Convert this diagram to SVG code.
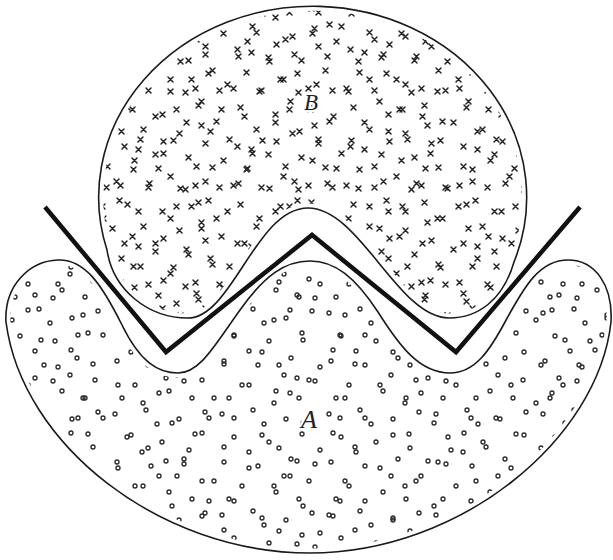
<svg xmlns="http://www.w3.org/2000/svg" width="613" height="560" viewBox="0 0 613 560">
<style>
.xm{fill:none;stroke:#222;stroke-width:1.5;stroke-linecap:round}
.om{fill:none;stroke:#2a2a2a;stroke-width:1.35}
.halo{fill:none;stroke:#fff;stroke-width:9}
.outline{fill:none;stroke:#1a1a1a;stroke-width:1.6}
.thick{fill:none;stroke:#111;stroke-width:4.5;stroke-linejoin:miter;stroke-linecap:butt}
.lbl{font-family:"Liberation Serif","Times New Roman",serif;font-style:italic;fill:#222;stroke:#fff;stroke-width:5;paint-order:stroke}
</style>
<defs>
<path id="shapeB" d="M107,250 A214,191 0 1 1 514,262 C503,300 478,318 449,318 C398,318 360,208 308,208 C256,208 232,318 188,318 C148,318 113,290 107,250 Z"/>
<path id="shapeA" d="M58,260 C85,259 102,285 122,325 C140,362 158,373 178,373 C200,373 215,345 240,310 C265,275 285,261 310,261 C335,261 355,277 378,312 C400,347 420,373 450,373 C475,373 490,350 505,322 C525,285 540,260 568,260 C595,260 613,285 611,322 C598,440 460,553 310,553 C160,553 22,445 6,322 C4,285 30,261 58,260 Z"/>
<pattern id="pb1" patternUnits="userSpaceOnUse" width="113" height="97">
<path class="xm" d="M12 8l5 5m0-5l-5 5M47 15l5 5m0-5l-5 5M83 6l5 5m0-5l-5 5M101 22l5 5m0-5l-5 5M28 30l5 5m0-5l-5 5M64 34l5 5m0-5l-5 5M9 47l5 5m0-5l-5 5M90 44l5 5m0-5l-5 5M40 55l5 5m0-5l-5 5M73 58l5 5m0-5l-5 5M18 70l5 5m0-5l-5 5M55 77l5 5m0-5l-5 5M97 68l5 5m0-5l-5 5M33 88l5 5m0-5l-5 5M80 86l5 5m0-5l-5 5M104 88l5 5m0-5l-5 5M61 10l5 5m0-5l-5 5M23 50l5 5m0-5l-5 5M86 26l5 5m0-5l-5 5M48 42l5 5m0-5l-5 5M5 86l5 5m0-5l-5 5M70 90l5 5m0-5l-5 5"/>
</pattern>
<pattern id="pb2" patternUnits="userSpaceOnUse" width="89" height="127" x="37" y="19">
<path class="xm" d="M6 12l5 5m0-5l-5 5M35 5l5 5m0-5l-5 5M68 18l5 5m0-5l-5 5M21 35l5 5m0-5l-5 5M52 40l5 5m0-5l-5 5M80 52l5 5m0-5l-5 5M10 63l5 5m0-5l-5 5M42 70l5 5m0-5l-5 5M73 80l5 5m0-5l-5 5M27 95l5 5m0-5l-5 5M58 101l5 5m0-5l-5 5M82 110l5 5m0-5l-5 5M12 118l5 5m0-5l-5 5M45 119l5 5m0-5l-5 5M63 58l5 5m0-5l-5 5M30 20l5 5m0-5l-5 5M77 33l5 5m0-5l-5 5M4 88l5 5m0-5l-5 5"/>
</pattern>
<pattern id="pa1" patternUnits="userSpaceOnUse" width="107" height="101">
<path class="om" d="M6 10a2 2 0 1 0 4 0a2 2 0 1 0-4 0M37 6a2 2 0 1 0 4 0a2 2 0 1 0-4 0M70 15a2 2 0 1 0 4 0a2 2 0 1 0-4 0M96 8a2 2 0 1 0 4 0a2 2 0 1 0-4 0M18 33a2 2 0 1 0 4 0a2 2 0 1 0-4 0M53 38a2 2 0 1 0 4 0a2 2 0 1 0-4 0M86 30a2 2 0 1 0 4 0a2 2 0 1 0-4 0M8 58a2 2 0 1 0 4 0a2 2 0 1 0-4 0M42 62a2 2 0 1 0 4 0a2 2 0 1 0-4 0M75 55a2 2 0 1 0 4 0a2 2 0 1 0-4 0M26 82a2 2 0 1 0 4 0a2 2 0 1 0-4 0M60 88a2 2 0 1 0 4 0a2 2 0 1 0-4 0M93 77a2 2 0 1 0 4 0a2 2 0 1 0-4 0M13 95a2 2 0 1 0 4 0a2 2 0 1 0-4 0M48 20a2 2 0 1 0 4 0a2 2 0 1 0-4 0M83 95a2 2 0 1 0 4 0a2 2 0 1 0-4 0M68 72a2 2 0 1 0 4 0a2 2 0 1 0-4 0M33 48a2 2 0 1 0 4 0a2 2 0 1 0-4 0"/>
</pattern>
<pattern id="pa2" patternUnits="userSpaceOnUse" width="131" height="83" x="23" y="41">
<path class="om" d="M3 20a2 2 0 1 0 4 0a2 2 0 1 0-4 0M28 8a2 2 0 1 0 4 0a2 2 0 1 0-4 0M58 25a2 2 0 1 0 4 0a2 2 0 1 0-4 0M93 12a2 2 0 1 0 4 0a2 2 0 1 0-4 0M118 30a2 2 0 1 0 4 0a2 2 0 1 0-4 0M16 50a2 2 0 1 0 4 0a2 2 0 1 0-4 0M46 60a2 2 0 1 0 4 0a2 2 0 1 0-4 0M78 45a2 2 0 1 0 4 0a2 2 0 1 0-4 0M106 62a2 2 0 1 0 4 0a2 2 0 1 0-4 0M33 77a2 2 0 1 0 4 0a2 2 0 1 0-4 0M68 74a2 2 0 1 0 4 0a2 2 0 1 0-4 0M123 75a2 2 0 1 0 4 0a2 2 0 1 0-4 0M10 5a2 2 0 1 0 4 0a2 2 0 1 0-4 0M53 45a2 2 0 1 0 4 0a2 2 0 1 0-4 0"/>
</pattern>
</defs>
<rect width="613" height="560" fill="#fff"/>
<g id="region-B">
<use href="#shapeB" fill="url(#pb1)"/>
<use href="#shapeB" fill="url(#pb2)"/>
<use href="#shapeB" class="halo"/>
<use href="#shapeB" class="outline"/>
</g>
<g id="region-A">
<use href="#shapeA" fill="url(#pa1)"/>
<use href="#shapeA" fill="url(#pa2)"/>
<use href="#shapeA" class="halo"/>
<use href="#shapeA" class="outline"/>
</g>
<g id="boundary-line">
<polyline class="thick" points="45,207 166,352 312,235 456,352 580,207"/>
</g>
<g id="labels">
<text class="lbl" x="304" y="110" font-size="23">B</text>
<text class="lbl" x="301" y="428" font-size="26">A</text>
</g>
</svg>
